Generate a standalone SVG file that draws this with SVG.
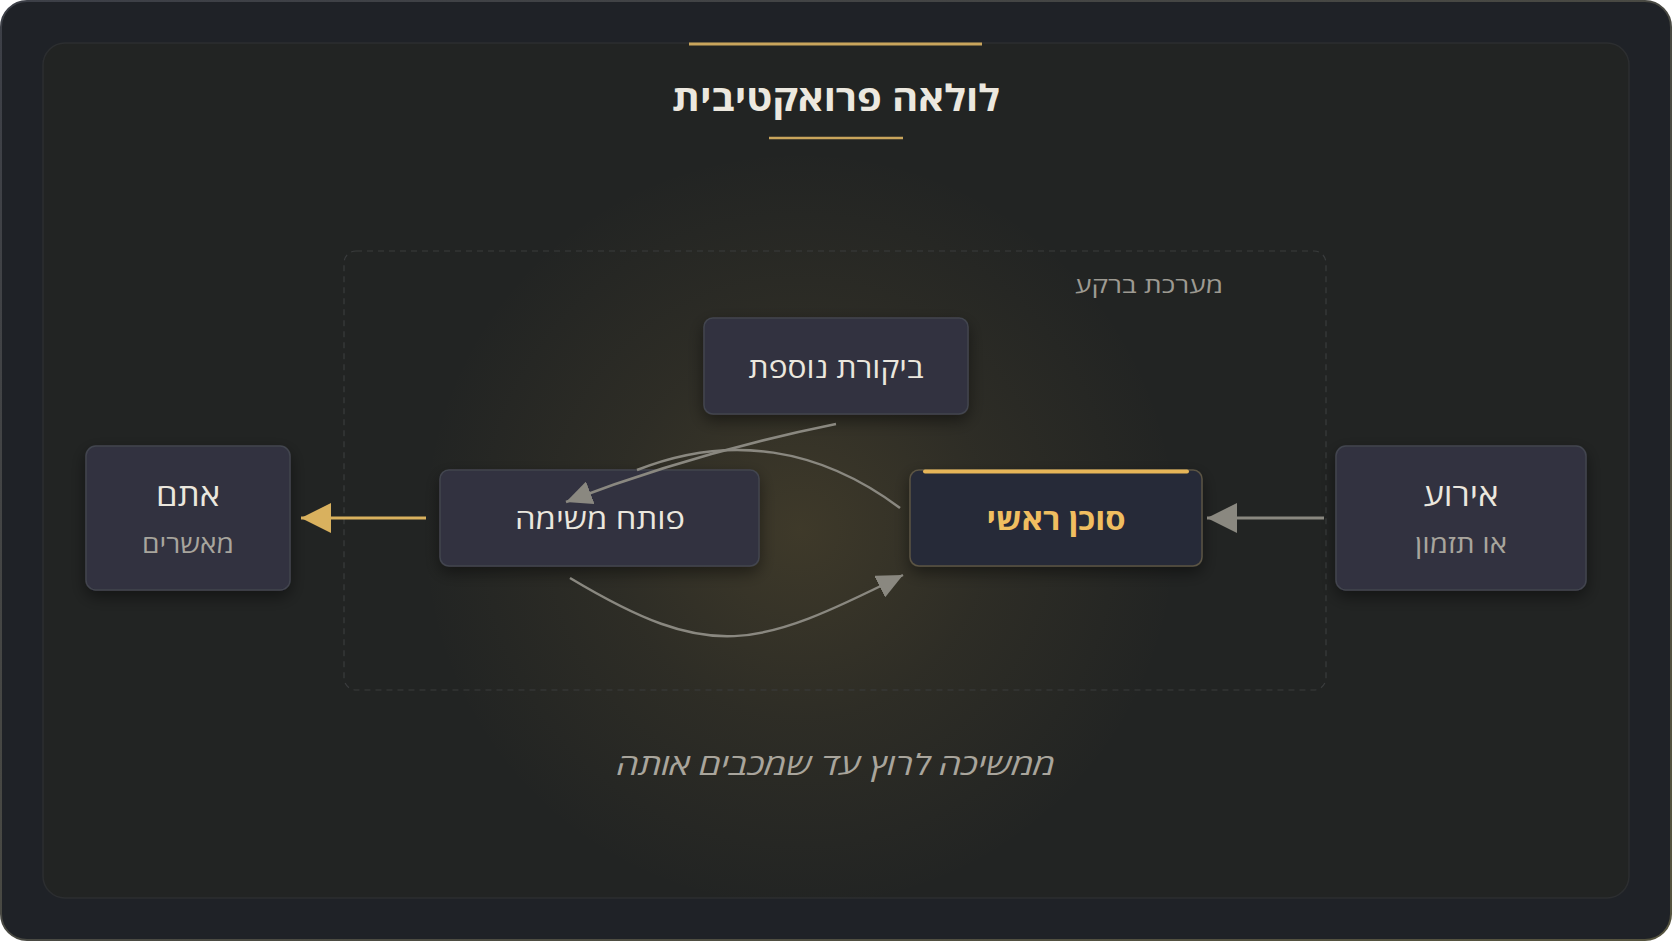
<svg xmlns="http://www.w3.org/2000/svg" width="1672" height="941" viewBox="0 0 1672 941">
<style>
text{font-family:"Open Sans","Liberation Sans","DejaVu Sans",sans-serif;text-anchor:middle}
.node{fill:#30323f;stroke:#43454f;stroke-width:1.5}
.lbl{font-size:28px;fill:#ebe7de}
.big{font-size:31px;fill:#ebe7de}
.sub{font-size:25px;fill:#a8a59d}
.conn{fill:none;stroke:#8a8880;stroke-width:2.5}
</style>
<defs>
<linearGradient id="frameStroke" x1="0" y1="0" x2="1" y2="1">
<stop offset="0" stop-color="#3c3f47"/>
<stop offset="1" stop-color="#56543f"/>
</linearGradient>
<radialGradient id="glow" cx="800" cy="530" r="380" gradientUnits="userSpaceOnUse">
<stop offset="0" stop-color="#c9a24a" stop-opacity="0.17"/>
<stop offset="0.5" stop-color="#c9a24a" stop-opacity="0.07"/>
<stop offset="1" stop-color="#c9a24a" stop-opacity="0"/>
</radialGradient>
<filter id="shadow" x="-20%" y="-20%" width="140%" height="160%">
<feDropShadow dx="0" dy="6" stdDeviation="8" flood-color="#000" flood-opacity="0.45"/>
</filter>
<marker id="arrGray" markerUnits="userSpaceOnUse" markerWidth="30" markerHeight="30" refX="30" refY="15" orient="auto">
<path d="M0,0 L30,15 L0,30 z" fill="#8a8880"/>
</marker>
<marker id="arrGold" markerUnits="userSpaceOnUse" markerWidth="30" markerHeight="30" refX="30" refY="15" orient="auto">
<path d="M0,0 L30,15 L0,30 z" fill="#d9b15e"/>
</marker>
<marker id="arrSmall" markerUnits="userSpaceOnUse" markerWidth="26" markerHeight="24" refX="26" refY="12" orient="auto">
<path d="M0,0 L26,12 L0,24 z" fill="#8a8880"/>
</marker>
</defs>

<g id="background">
<rect x="1" y="1" width="1670" height="939" rx="26" fill="#1f2227" stroke="url(#frameStroke)" stroke-width="2"/>
<rect x="43" y="43" width="1586" height="855" rx="22" fill="#222423" stroke="#2c2e30" stroke-width="1.5"/>
<rect x="43" y="43" width="1586" height="855" rx="22" fill="url(#glow)"/>
<rect x="344" y="251" width="982" height="439" rx="12" fill="none" stroke="#3a3c3d" stroke-width="1.2" stroke-dasharray="6 5"/>
</g>

<g id="title">
<line x1="689" y1="44" x2="982" y2="44" stroke="#c9a55c" stroke-width="3"/>
<text x="836" y="111" font-size="36" font-weight="bold" fill="#ece8df" textLength="328" lengthAdjust="spacingAndGlyphs">לולאה פרואקטיבית</text>
<line x1="769" y1="138" x2="903" y2="138" stroke="#c9a55c" stroke-width="2.5"/>
</g>

<g id="group-label">
<text x="1223" y="293" font-size="22" fill="#9d9a92" style="text-anchor:end" textLength="148" lengthAdjust="spacingAndGlyphs">מערכת ברקע</text>
</g>

<g id="node-review">
<rect class="node" x="704" y="318" width="264" height="96" rx="9" filter="url(#shadow)"/>
<text class="lbl" x="836" y="378" textLength="175" lengthAdjust="spacingAndGlyphs">ביקורת נוספת</text>
</g>

<g id="node-task">
<rect class="node" x="440" y="470" width="319" height="96" rx="9" filter="url(#shadow)"/>
<text class="lbl" x="600" y="529" textLength="170" lengthAdjust="spacingAndGlyphs">פותח משימה</text>
</g>

<g id="node-main">
<rect x="910" y="470" width="292" height="96" rx="9" fill="#282b37" stroke="#5b5444" stroke-width="1.5" filter="url(#shadow)"/>
<line x1="925" y1="471.5" x2="1187" y2="471.5" stroke="#e6b558" stroke-width="4" stroke-linecap="round"/>
<text x="1056" y="530" font-size="29" font-weight="bold" fill="#f0be60" textLength="139" lengthAdjust="spacingAndGlyphs">סוכן ראשי</text>
</g>

<g id="node-event">
<rect class="node" x="1336" y="446" width="250" height="144" rx="10" filter="url(#shadow)"/>
<text class="big" x="1461" y="506" textLength="75" lengthAdjust="spacingAndGlyphs">אירוע</text>
<text class="sub" x="1461" y="553" textLength="92" lengthAdjust="spacingAndGlyphs">או תזמון</text>
</g>

<g id="node-you">
<rect class="node" x="86" y="446" width="204" height="144" rx="10" filter="url(#shadow)"/>
<text class="big" x="188" y="506" textLength="64" lengthAdjust="spacingAndGlyphs">אתם</text>
<text class="sub" x="188" y="553" textLength="92" lengthAdjust="spacingAndGlyphs">מאשרים</text>
</g>

<g id="connectors">
<line x1="1324" y1="518" x2="1207" y2="518" stroke="#8a8880" stroke-width="3" marker-end="url(#arrGray)"/>
<line x1="426" y1="518" x2="301" y2="518" stroke="#d9b15e" stroke-width="3" marker-end="url(#arrGold)"/>
<path class="conn" d="M900 508 C820 448 730 433 637 470"/>
<path class="conn" d="M836 424 Q697 452 566 502" marker-end="url(#arrSmall)"/>
<path class="conn" d="M570 578 C712 663 755 649 903 575" marker-end="url(#arrSmall)"/>
</g>

<g id="footer">
<text x="836" y="775" font-size="29" font-style="italic" fill="#a9a59c" textLength="438" lengthAdjust="spacingAndGlyphs">ממשיכה לרוץ עד שמכבים אותה</text>
</g>
</svg>
